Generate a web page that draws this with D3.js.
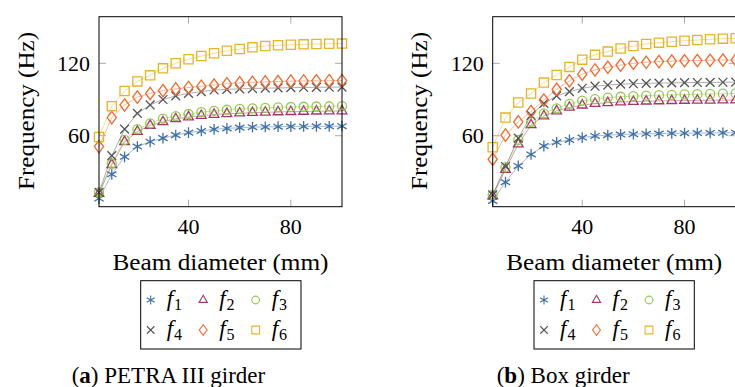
<!DOCTYPE html>
<meta charset="utf-8">
<html>
<style>
	body { margin: 0; background: #fff; }
	svg { display: block; }
	text { font-family: "Liberation Serif", "Times New Roman", serif; fill: #000; }
	.frame { fill: none; stroke: #000; stroke-width: 1px; }
	.tick { stroke: #aaa; stroke-width: 1px; }
	.series-line { fill: none; stroke-width: 0.6px; stroke-opacity: 0.8; }
	.mark { fill: none; stroke-width: 1.3px; }
</style>
<body>
	<script src="https://cdnjs.cloudflare.com/ajax/libs/d3/7.8.5/d3.min.js"></script>
	<script type="text/javascript">
		var width = 735, height = 387;

		// beam diameter (mm), shared by both panels
		var diameters = [5, 10, 15, 20, 25, 30, 35, 40, 45, 50, 55, 60, 65, 70, 75, 80, 85, 90, 95, 100];

		// (a) PETRA III girder, frequency (Hz)
		var petraF1 = [8, 28, 42.5, 51, 55, 58, 60.5, 62.5, 64, 65.3, 66, 66.7, 67.1, 67.3, 67.5, 67.6, 67.7, 67.8, 67.8, 67.9];
		var petraF2 = [12, 36, 55, 63.5, 68.5, 71.5, 74, 75.5, 76.7, 77.6, 78.2, 78.7, 79.1, 79.4, 79.7, 79.9, 80.1, 80.3, 80.4, 80.5];
		var petraF3 = [13, 37, 56.5, 65.5, 70.2, 74.2, 76.3, 78, 79.5, 80.6, 81.5, 82.2, 82.7, 83.1, 83.5, 83.8, 84, 84.2, 84.4, 84.6];
		var petraF4 = [13, 43.5, 65.5, 78.5, 85.5, 90, 93, 95.1, 96.5, 97.9, 98.4, 98.8, 99.1, 99.4, 99.6, 99.8, 100, 100.1, 100.2, 100.3];
		var petraF5 = [51, 75, 85.5, 92, 95, 97.3, 98.8, 100, 101, 102, 103, 103.8, 104.2, 104.6, 104.9, 105.2, 105.4, 105.5, 105.6, 105.7];
		var petraF6 = [59, 84.5, 97, 105, 110, 115.8, 120, 123.3, 126, 128.3, 130.4, 131.8, 133.2, 134.3, 134.9, 135.4, 135.7, 136, 136.2, 136.3];

		// (b) Box girder, frequency (Hz)
		var boxF1 = [6, 21.5, 35, 44.5, 51.5, 54.5, 56.5, 58.5, 59.8, 60.5, 61, 61.3, 61.6, 61.8, 62, 62.1, 62.2, 62.3, 62.4, 62.5];
		var boxF2 = [10, 32, 53, 69, 76.3, 80.5, 83.5, 85.3, 86.6, 87.3, 87.9, 88.3, 88.6, 88.8, 89, 89.2, 89.3, 89.4, 89.5, 89.6];
		var boxF3 = [11, 34, 56.5, 71.5, 78.5, 82.7, 86.3, 89, 90.4, 91.6, 92.3, 92.8, 93.2, 93.6, 93.9, 94.2, 94.4, 94.6, 94.8, 95];
		var boxF4 = [11, 34.5, 58, 77, 86.8, 93, 96.5, 99.3, 101, 102, 102.7, 103.1, 103.4, 103.6, 103.8, 104, 104.1, 104.2, 104.3, 104.4];
		var boxF5 = [40.5, 60.5, 71.5, 80, 89.5, 98.5, 105.5, 111, 114.5, 116.7, 118.5, 120, 120.8, 121.4, 121.8, 122.1, 122.3, 122.5, 122.7, 122.8];
		var boxF6 = [50.5, 75, 87.5, 95, 104, 110.3, 117, 123, 127, 129.7, 132.3, 134.3, 136, 137.1, 137.9, 138.7, 139.3, 139.9, 140.4, 140.7];

		var seriesNames = ["1", "2", "3", "4", "5", "6"];
		var seriesColors = ["#3f6fa6", "#a33866", "#93c94a", "#555555", "#ef6a2e", "#e6b32b"];
		var seriesMarks = ["asterisk", "triangle", "circle", "times", "diamond", "square"];
		var xTicks = [40, 80];
		var yTicks = [60, 120];

		var svg = d3.select("body").append("svg")
			.attr("width", width)
			.attr("height", height);

		// marker outlines, centred on 0,0
		function markPath(kind) {
			var p = d3.path();
			if (kind == "asterisk") {
				var r = 5.4, t = r / 2, u = t * Math.sqrt(3);
				p.moveTo(0, -r); p.lineTo(0, r);
				p.moveTo(-u, -t); p.lineTo(u, t);
				p.moveTo(-u, t); p.lineTo(u, -t);
			} else if (kind == "triangle") {
				var r = 5.6;
				p.moveTo(0, -r);
				p.lineTo(0.866 * r, 0.5 * r);
				p.lineTo(-0.866 * r, 0.5 * r);
				p.closePath();
			} else if (kind == "circle") {
				p.arc(0, 0, 4.5, 0, 2 * Math.PI);
			} else if (kind == "times") {
				var a = 4.4;
				p.moveTo(-a, -a); p.lineTo(a, a);
				p.moveTo(-a, a); p.lineTo(a, -a);
			} else if (kind == "diamond") {
				p.moveTo(0, -6.2); p.lineTo(4.6, 0); p.lineTo(0, 6.2); p.lineTo(-4.6, 0);
				p.closePath();
			} else if (kind == "square") {
				p.rect(-4.6, -4.6, 9.2, 9.2);
			}
			return p.toString();
		}

		function drawPanel(left, right, series, opts) {
			var top = 16.7, bottom = 206.7;
			var x = d3.scaleLinear().domain([5, 100]).range([left, right]);
			var y = d3.scaleLinear().domain([1.2, 158.6]).range([bottom, top]);
			var g = svg.append("g");

			// ticks on all four sides, pointing inward
			xTicks.forEach(function (t) {
				g.append("line").attr("class", "tick")
					.attr("x1", x(t)).attr("x2", x(t)).attr("y1", bottom).attr("y2", bottom - 7);
				g.append("line").attr("class", "tick")
					.attr("x1", x(t)).attr("x2", x(t)).attr("y1", top).attr("y2", top + 7);
				g.append("text").attr("x", x(t)).attr("y", 233.5)
					.attr("text-anchor", "middle").style("font-size", "22px").text(t);
			});
			yTicks.forEach(function (t) {
				g.append("line").attr("class", "tick")
					.attr("x1", left).attr("x2", left + 7).attr("y1", y(t)).attr("y2", y(t));
				g.append("line").attr("class", "tick")
					.attr("x1", right).attr("x2", right - 7).attr("y1", y(t)).attr("y2", y(t));
				g.append("text").attr("x", left - 9).attr("y", y(t) + 7.5)
					.attr("text-anchor", "end").style("font-size", "22px").text(t);
			});

			var line = d3.line()
				.x(function (d) { return x(d[0]); })
				.y(function (d) { return y(d[1]); });

			series.forEach(function (vals, i) {
				var pts = diameters.map(function (d, j) { return [d, vals[j]]; });
				g.append("path").attr("class", "series-line")
					.attr("d", line(pts))
					.style("stroke", seriesColors[i]);
				g.selectAll(".m" + i)
					.data(pts)
					.enter().append("path")
					.attr("class", "mark m" + i)
					.attr("transform", function (d) { return "translate(" + x(d[0]) + "," + y(d[1]) + ")"; })
					.attr("d", markPath(seriesMarks[i]))
					.style("stroke", seriesColors[i]);
			});

			g.append("rect").attr("class", "frame")
				.attr("x", left).attr("y", top)
				.attr("width", right - left).attr("height", bottom - top);

			// axis labels
			g.append("text").attr("x", (left + 342 - 99 + left) / 2).attr("y", 269.5)
				.attr("text-anchor", "middle").style("font-size", "23px")
				.attr("textLength", 216).attr("lengthAdjust", "spacingAndGlyphs")
				.text("Beam diameter (mm)");
			g.append("text")
				.attr("transform", "translate(" + (left - 65.5) + ",111) rotate(-90)")
				.attr("text-anchor", "middle").style("font-size", "23px")
				.attr("textLength", 158).attr("lengthAdjust", "spacingAndGlyphs")
				.text("Frequency (Hz)");

			// legend, two rows of three
			var lg = g.append("g").attr("transform", "translate(" + opts.legendX + ",0)");
			lg.append("rect").attr("class", "frame")
				.attr("x", 0).attr("y", 280.7).attr("width", 160.3).attr("height", 68.3);
			seriesNames.forEach(function (name, i) {
				var col = i % 3, row = Math.floor(i / 3);
				var cx = 10 + col * 52.5, cy = 300 + row * 30;
				lg.append("path").attr("class", "mark")
					.attr("transform", "translate(" + cx + "," + cy + ") scale(0.85)")
					.attr("d", markPath(seriesMarks[i]))
					.style("stroke", seriesColors[i]);
				var t = lg.append("text").attr("x", cx + 16).attr("y", cy + 6)
					.style("font-size", "23px");
				t.append("tspan").style("font-style", "italic").text("f");
				t.append("tspan").attr("dy", 4).attr("dx", 1).style("font-size", "16px").text(name);
			});

			// sub caption
			var cap = g.append("text").attr("x", opts.capX).attr("y", 382.5).style("font-size", "23px");
			cap.append("tspan").text("(");
			cap.append("tspan").style("font-weight", "bold").text(opts.letter);
			cap.append("tspan").text(") " + opts.caption);
		}

		drawPanel(99, 342, [petraF1, petraF2, petraF3, petraF4, petraF5, petraF6],
			{ legendX: 140.7, capX: 71.7, letter: "a", caption: "PETRA III girder" });
		// right panel runs off the page edge, as in the source
		drawPanel(492.7, 735.7, [boxF1, boxF2, boxF3, boxF4, boxF5, boxF6],
			{ legendX: 534, capX: 496.7, letter: "b", caption: "Box girder" });
	</script>
</body>
</html>
